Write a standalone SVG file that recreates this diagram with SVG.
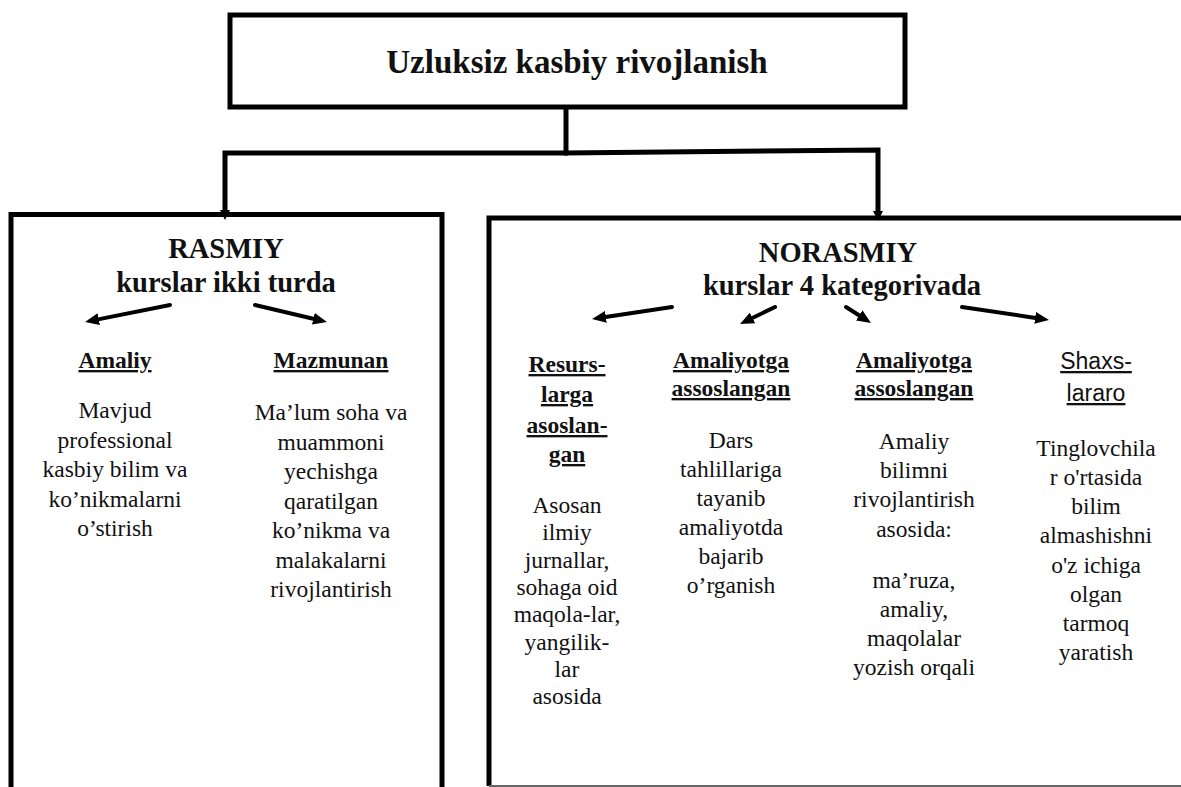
<svg xmlns="http://www.w3.org/2000/svg" width="1181" height="787" viewBox="0 0 1181 787">
<style>
.box{fill:none;stroke:#000;stroke-width:5}
.con{fill:none;stroke:#000;stroke-width:5}
.arr{fill:none;stroke:#000;stroke-width:4;stroke-linecap:round}
.t{font-family:'Liberation Serif','Times New Roman',Times,serif;fill:#111;text-anchor:middle}
.title{font-size:33px;font-weight:bold}
.head{font-size:28.5px;font-weight:bold}
.sub{font-size:23.5px;font-weight:bold;text-decoration:underline}
.subs{font-family:'Liberation Sans',Arial,sans-serif;font-size:23px;text-decoration:underline}
.body{font-size:23.5px}
</style>
<defs>
<marker id="tip" viewBox="0 0 10 10" refX="1" refY="5" markerWidth="10" markerHeight="10" markerUnits="userSpaceOnUse" orient="auto">
<path d="M0,0 L10,5 L0,10 z" fill="#000"/>
</marker>
<marker id="big" viewBox="0 0 14 12" refX="2" refY="6" markerWidth="14" markerHeight="12" markerUnits="userSpaceOnUse" orient="auto">
<path d="M0,0 L14,6 L0,12 z" fill="#000"/>
</marker>
</defs>
<rect width="1181" height="787" fill="#fff"/>

<g id="root">
<rect class="box" x="230" y="15" width="675" height="92"/>
<text class="t title" x="577" y="73">Uzluksiz kasbiy rivojlanish</text>
</g>

<g id="connectors">
<path class="con" d="M566,107 L566,153"/>
<path class="con" d="M568,153 L225,153 L225,211" marker-end="url(#tip)"/>
<path class="con" d="M564,153 L878,150 L878,212" marker-end="url(#tip)"/>
<line class="arr" x1="170" y1="305" x2="96.8" y2="319.6" marker-end="url(#big)"/>
<line class="arr" x1="255" y1="305" x2="315.3" y2="319.2" marker-end="url(#big)"/>
<line class="arr" x1="672" y1="307" x2="603.9" y2="317.2" marker-end="url(#big)"/>
<line class="arr" x1="775" y1="307" x2="750.8" y2="318.8" marker-end="url(#big)"/>
<line class="arr" x1="846" y1="307" x2="860.9" y2="316.5" marker-end="url(#big)"/>
<line class="arr" x1="962" y1="307" x2="1037.1" y2="318.2" marker-end="url(#big)"/>
</g>

<g id="rasmiy">
<path class="box" d="M11,790 L11,214.5 L442,214.5 L442,790"/>
<text class="t head" x="226" y="258">RASMIY</text>
<text class="t head" x="226" y="292">kurslar ikki turda</text>
</g>

<g id="amaliy">
<text class="t sub" x="115" y="368">Amaliy</text>
<text class="t body" x="115" y="418">Mavjud</text>
<text class="t body" x="115" y="447.5">professional</text>
<text class="t body" x="115" y="477">kasbiy bilim va</text>
<text class="t body" x="115" y="506.5">ko’nikmalarni</text>
<text class="t body" x="115" y="536">o’stirish</text>
</g>

<g id="mazmunan">
<text class="t sub" x="331" y="368">Mazmunan</text>
<text class="t body" x="331" y="420">Ma’lum soha va</text>
<text class="t body" x="331" y="449.5">muammoni</text>
<text class="t body" x="331" y="479">yechishga</text>
<text class="t body" x="331" y="508.5">qaratilgan</text>
<text class="t body" x="331" y="538">ko’nikma va</text>
<text class="t body" x="331" y="567.5">malakalarni</text>
<text class="t body" x="331" y="597">rivojlantirish</text>
</g>

<g id="norasmiy">
<path class="box" d="M1190,218 L489,218 L489,786"/>
<line x1="489" y1="786" x2="1181" y2="786" stroke="#666" stroke-width="2"/>
<text class="t head" x="838" y="262">NORASMIY</text>
<text class="t head" x="842" y="295">kurslar 4 kategorivada</text>
</g>

<g id="resurs">
<text class="t sub" x="567" y="372">Resurs-</text>
<text class="t sub" x="567" y="402">larga</text>
<text class="t sub" x="567" y="433">asoslan-</text>
<text class="t sub" x="567" y="462">gan</text>
<text class="t body" x="567" y="513">Asosan</text>
<text class="t body" x="567" y="540">ilmiy</text>
<text class="t body" x="567" y="568">jurnallar,</text>
<text class="t body" x="567" y="595">sohaga oid</text>
<text class="t body" x="567" y="622">maqola-lar,</text>
<text class="t body" x="567" y="650">yangilik-</text>
<text class="t body" x="567" y="677">lar</text>
<text class="t body" x="567" y="704">asosida</text>
</g>

<g id="amaliyotga1">
<text class="t sub" x="731" y="368">Amaliyotga</text>
<text class="t sub" x="731" y="396">assoslangan</text>
<text class="t body" x="731" y="448">Dars</text>
<text class="t body" x="731" y="477">tahlillariga</text>
<text class="t body" x="731" y="506">tayanib</text>
<text class="t body" x="731" y="535">amaliyotda</text>
<text class="t body" x="731" y="564">bajarib</text>
<text class="t body" x="731" y="593">o’rganish</text>
</g>

<g id="amaliyotga2">
<text class="t sub" x="914" y="368">Amaliyotga</text>
<text class="t sub" x="914" y="396">assoslangan</text>
<text class="t body" x="914" y="449">Amaliy</text>
<text class="t body" x="914" y="478">bilimni</text>
<text class="t body" x="914" y="507">rivojlantirish</text>
<text class="t body" x="914" y="537">asosida:</text>
<text class="t body" x="914" y="588">ma’ruza,</text>
<text class="t body" x="914" y="617">amaliy,</text>
<text class="t body" x="914" y="646">maqolalar</text>
<text class="t body" x="914" y="675">yozish orqali</text>
</g>

<g id="shaxslararo">
<text class="t subs" x="1096" y="369">Shaxs-</text>
<text class="t subs" x="1096" y="401">lararo</text>
<text class="t body" x="1096" y="456">Tinglovchila</text>
<text class="t body" x="1096" y="485">r o'rtasida</text>
<text class="t body" x="1096" y="514">bilim</text>
<text class="t body" x="1096" y="543">almashishni</text>
<text class="t body" x="1096" y="573">o'z ichiga</text>
<text class="t body" x="1096" y="602">olgan</text>
<text class="t body" x="1096" y="631">tarmoq</text>
<text class="t body" x="1096" y="660">yaratish</text>
</g>
</svg>
